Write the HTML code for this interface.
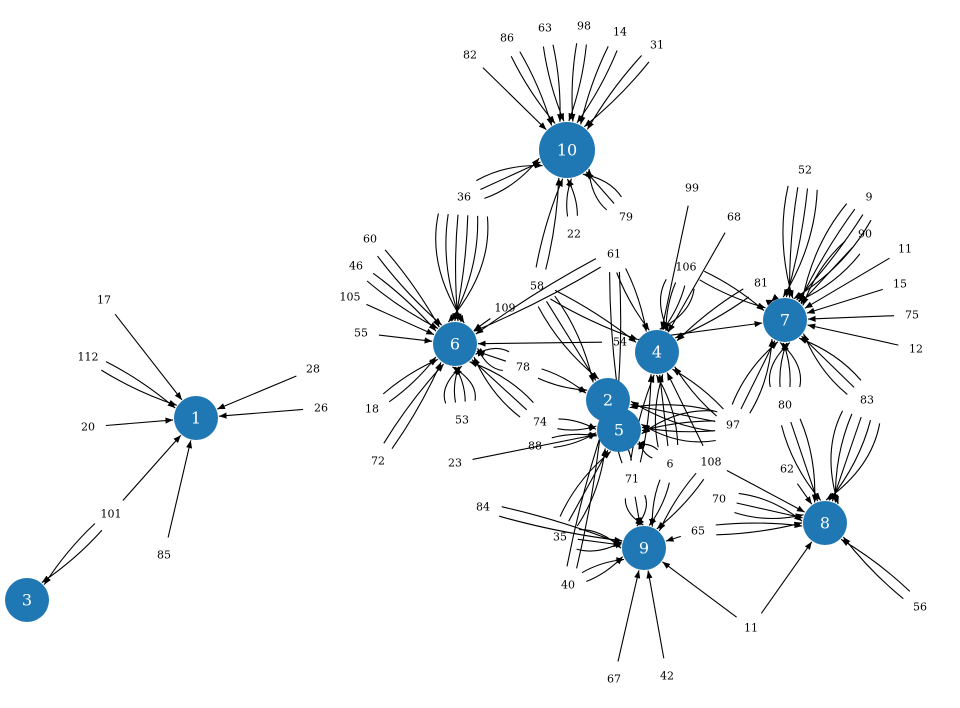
<!DOCTYPE html>
<html><head><meta charset="utf-8"><style>
html,body{margin:0;padding:0;background:#fff;width:960px;height:708px;overflow:hidden}
svg text{font-family:"DejaVu Serif","Liberation Serif",serif;font-size:11px;fill:#000;text-anchor:middle;dominant-baseline:central}
svg text.h{fill:#fff;font-size:16px}
</style></head><body>
<svg id="s" width="960" height="708" viewBox="0 0 960 708" xmlns="http://www.w3.org/2000/svg">
<defs><marker id="a" viewBox="0 0 10 10" refX="10" refY="5" markerWidth="7" markerHeight="7" orient="auto-start-reverse"><path d="M0,1 L10,5 L0,9 z" fill="#000"/></marker></defs>
<g id="e" stroke="#000" stroke-width="1.1" fill="none"></g>
<g id="lb">
<text x="104" y="300">17</text><text x="88" y="357">112</text><text x="88" y="427">20</text><text x="111" y="514">101</text><text x="164" y="555">85</text><text x="313" y="369">28</text><text x="321" y="408">26</text>
<text x="470" y="55">82</text><text x="507" y="38">86</text><text x="545" y="28">63</text><text x="584" y="26">98</text><text x="620" y="32">14</text><text x="657" y="45">31</text>
<text x="464" y="197">36</text><text x="574" y="234">22</text><text x="626" y="217">79</text><text x="692" y="188">99</text><text x="734" y="217">68</text><text x="686" y="267">106</text><text x="614" y="254">61</text>
<text x="370" y="239">60</text><text x="356" y="266">46</text><text x="350" y="297">105</text><text x="361" y="333">55</text><text x="372" y="409">18</text><text x="378" y="461">72</text>
<text x="462" y="420">53</text><text x="455" y="463">23</text><text x="505" y="308">109</text><text x="537" y="286">58</text><text x="523" y="367">78</text><text x="540" y="422">74</text><text x="535" y="446">88</text><text x="620" y="342">54</text>
<text x="805" y="170">52</text><text x="869" y="197">9</text><text x="865" y="234">90</text><text x="905" y="249">11</text><text x="900" y="284">15</text><text x="912" y="315">75</text><text x="916" y="349">12</text>
<text x="867" y="400">83</text><text x="785" y="405">80</text><text x="761" y="283">81</text><text x="733" y="425">97</text>
<text x="787" y="469">62</text><text x="719" y="499">70</text><text x="698" y="531">65</text><text x="711" y="462">108</text><text x="751" y="628">11</text><text x="920" y="607">56</text>
<text x="560" y="537">35</text><text x="568" y="585">40</text><text x="614" y="679">67</text><text x="667" y="676">42</text><text x="483" y="507">84</text><text x="632" y="479">71</text><text x="670" y="464">6</text>
</g>
<g id="nd" fill="#1f77b4"></g>
</svg>
<script>
var H={1:[196,418,22],3:[27,600,22],6:[455,344,22],10:[567,150,28],7:[785,320,22],2:[608,400,22],5:[619,430,22],4:[657,352,22],9:[644,548,22],8:[825,523,22]};
var L=[
[104,300,1,1],[88,357,1,2],[88,427,1,1],[111,514,1,1],[111,514,3,2],[164,555,1,1],[313,369,1,1],[321,408,1,1],
[470,55,10,1],[507,38,10,2],[545,28,10,2],[584,26,10,2],[620,32,10,2],[657,45,10,2],[464,197,10,3],[574,234,10,2],[626,217,10,3],[537,286,10,2],
[370,239,6,2],[356,266,6,2],[350,297,6,1],[361,333,6,1],[372,409,6,2],[378,461,6,2],[464,197,6,6],[462,420,6,4],[505,308,6,1],[523,367,6,3],[614,254,6,2],[620,342,6,1],[540,422,6,3],
[537,286,2,3],[537,286,4,2],[614,254,5,2],[614,254,4,2],[692,188,4,1],[734,217,4,1],[686,267,4,4],[686,267,7,2],[620,342,7,1],[761,283,4,2],
[523,367,2,2],[540,422,5,2],[535,446,5,2],[455,463,5,1],[733,425,5,4],[733,425,2,3],[733,425,4,2],[670,464,4,3],[632,479,4,2],[711,462,4,1],[670,464,5,2],
[805,170,7,4],[869,197,7,4],[865,234,7,3],[905,249,7,1],[900,284,7,1],[912,315,7,1],[916,349,7,1],[867,400,7,3],[785,405,7,4],[733,425,7,3],[761,283,7,2],
[787,469,8,1],[719,499,8,3],[698,531,8,2],[867,400,8,5],[785,405,8,3],[751,628,8,1],[920,607,8,2],[711,462,8,1],
[560,537,9,3],[568,585,9,2],[614,679,9,1],[667,676,9,1],[483,507,9,2],[632,479,9,3],[670,464,9,2],[711,462,9,2],[698,531,9,1],[751,628,9,1],[560,537,5,3],[568,585,2,2],[632,479,2,2]];
var g=document.getElementById('e'),h='';
L.forEach(function(l){var n=H[l[2]],x0=l[0],y0=l[1],dx=n[0]-x0,dy=n[1]-y0,d=Math.hypot(dx,dy),ux=dx/d,uy=dy/d;
for(var k=0;k<l[3];k++){var off=(k-(l[3]-1)/2)*14;var sx=x0+ux*18-uy*off*0.7,sy=y0+uy*18+ux*off*0.7;
var a=Math.atan2(dy,dx)+(l[3]>1?off*0.01:0);var ex=n[0]-Math.cos(a)*(n[2]+1),ey=n[1]-Math.sin(a)*(n[2]+1);
var mx=(sx+ex)/2-uy*off*0.7,my=(sy+ey)/2+ux*off*0.7;
h+='<path d="M'+sx.toFixed(1)+','+sy.toFixed(1)+' Q'+mx.toFixed(1)+','+my.toFixed(1)+' '+ex.toFixed(1)+','+ey.toFixed(1)+'" marker-end="url(#a)"/>';}});
g.innerHTML=h;
var nd='';for(var k in H){var n=H[k];nd+='<circle cx="'+n[0]+'" cy="'+n[1]+'" r="'+n[2]+'"/>';}
document.getElementById('nd').innerHTML=nd;
var s=document.getElementById('s');
for(var k in H){var n=H[k];var t=document.createElementNS('http://www.w3.org/2000/svg','text');t.setAttribute('x',n[0]);t.setAttribute('y',n[1]);t.setAttribute('class','h');t.textContent=k;s.appendChild(t);}
</script>
<svg width="0" height="0" style="position:absolute"><text>1 2 3 4 5 6 7 8 9 10</text></svg>
</body></html>
